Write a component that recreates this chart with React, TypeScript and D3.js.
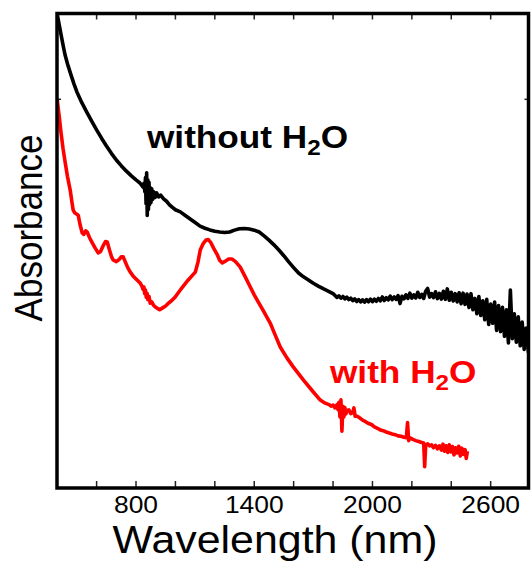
import React from "react";
import * as d3 from "d3";

// ---- data ----
const blackNm = [400,410,420,430,440,455,470,485,500,525,550,575,600,625,650,675,700,725,750,775,800,820,835,840,845,848,851,854,857,860,863,866,869,872,876,880,885,890,897,905,915,925,940,955,970,985,1000,1025,1050,1075,1100,1125,1150,1175,1200,1225,1250,1275,1300,1325,1350,1375,1400,1425,1450,1475,1500,1525,1550,1575,1600,1625,1650,1675,1700,1725,1750,1775,
1800,1810,1820,1830,1840,1850,1860,1870,1880,1890,1900,1910,1920,1930,1940,1950,1960,1970,1980,1990,2000,2010,2020,2030,2040,2050,2060,2070,2080,2090,2100,2110,2120,2130,2140,2150,2160,2170,2180,2190,2200,2210,2220,2230,2240,2250,2260,2270,2280,2290,2300,2310,2320,2330,2340,2350,2360,2370,2380,2390,2400,2410,2420,2430,2440,2450,2460,2470,2480,2490,2500,2510,2520,2530,2540,2550,2560,2570,2580,2590,2600,2610,2620,2630,2640,2650,2660,2670,2680,2690,2700,2710,2720,2730,2740,2750,2760,2770,2780,2792];
const blackAbs = [2.0,1.955,1.911,1.868,1.827,1.782,1.743,1.705,1.671,1.626,1.586,1.548,1.511,1.476,1.443,1.412,1.384,1.36,1.338,1.318,1.3,1.287,1.27,1.285,1.25,1.31,1.2,1.33,1.15,1.3,1.175,1.29,1.195,1.268,1.205,1.262,1.218,1.25,1.226,1.245,1.228,1.236,1.22,1.21,1.195,1.184,1.174,1.165,1.15,1.135,1.12,1.105,1.096,1.089,1.083,1.08,1.078,1.08,1.088,1.094,1.095,1.093,1.088,1.08,1.064,1.046,1.026,1.004,0.98,0.954,0.93,0.907,0.891,0.878,0.864,0.852,0.841,0.831,0.82,
0.812,0.804,0.811,0.801,0.808,0.798,0.805,0.795,0.801,0.791,0.798,0.787,0.795,0.785,0.794,0.784,0.795,0.786,0.797,0.786,0.797,0.788,0.8,0.79,0.806,0.791,0.803,0.794,0.81,0.795,0.806,0.796,0.812,0.778,0.809,0.798,0.815,0.8,0.822,0.801,0.815,0.802,0.826,0.804,0.817,0.8,0.83,0.842,0.805,0.82,0.803,0.828,0.799,0.821,0.797,0.83,0.796,0.84,0.792,0.826,0.789,0.82,0.785,0.824,0.778,0.822,0.775,0.818,0.762,0.82,0.752,0.8,0.735,0.808,0.728,0.79,0.71,0.796,0.69,0.776,0.695,0.785,0.665,0.77,0.66,0.762,0.64,0.752,0.612,0.835,0.63,0.735,0.615,0.722,0.6,0.7,0.585,0.675,0.57,0.6];

const redNm = [400,410,420,430,441,452,466,475,481,490,500,507,515,527,535,545,552,565,578,593,608,620,632,645,654,665,676,684,700,715,725,735,745,758,771,785,800,812,821,830,836,840,844,848,852,856,860,866,872,880,890,898,910,920,933,950,965,980,999,1020,1040,1065,1085,1101,1115,1126,1140,1155,1167,1180,1195,1212,1225,1238,1255,1270,1288,1305,1329,1355,1380,1400,1415,1448,1481,1505,1532,1565,1598,1650,1700,1735,1760,
1780,1790,1800,1810,1820,1825,1830,1835,1840,1845,1850,1855,1860,1865,1870,1880,1890,1900,1906,1912,1920,1935,1950,1965,1980,1995,2010,2025,2040,2055,2070,2085,2100,2115,2130,2145,2160,2172,2178,2184,2190,2205,2220,2235,2250,2260,2265,2270,2280,2290,2300,2310,2320,2330,2340,2350,2358,2366,2374,2382,2390,2398,2406,2414,2422,2430,2438,2446,2454,2462,2470,2476,2482];
const redAbs = [1.637,1.57,1.495,1.43,1.371,1.315,1.257,1.205,1.173,1.16,1.155,1.15,1.115,1.076,1.07,1.085,1.08,1.055,1.034,1.012,0.992,0.998,1.02,1.04,1.038,1.005,0.975,0.962,0.955,0.965,0.975,0.975,0.955,0.93,0.911,0.895,0.882,0.872,0.865,0.852,0.838,0.848,0.82,0.835,0.805,0.822,0.795,0.808,0.78,0.785,0.77,0.764,0.757,0.752,0.759,0.768,0.78,0.79,0.806,0.83,0.852,0.878,0.896,0.911,0.955,1.004,1.03,1.046,1.048,1.035,1.01,0.985,0.96,0.95,0.958,0.966,0.966,0.955,0.932,0.89,0.848,0.815,0.793,0.745,0.696,0.648,0.595,0.55,0.511,0.455,0.405,0.371,0.358,
0.352,0.345,0.35,0.338,0.352,0.33,0.362,0.3,0.372,0.24,0.345,0.3,0.34,0.312,0.326,0.33,0.314,0.318,0.338,0.303,0.304,0.296,0.286,0.28,0.272,0.268,0.258,0.252,0.245,0.242,0.236,0.232,0.228,0.225,0.22,0.218,0.214,0.212,0.276,0.2,0.212,0.205,0.2,0.196,0.192,0.19,0.09,0.178,0.186,0.178,0.182,0.17,0.18,0.165,0.178,0.16,0.185,0.155,0.178,0.15,0.182,0.152,0.175,0.14,0.17,0.148,0.176,0.135,0.168,0.142,0.162,0.125,0.155];

const xTickValues = [600,800,1000,1200,1400,1600,1800,2000,2200,2400,2600];
const xTickLabels = ["800","1400","2000","2600"];
const yTickValues = [1.64];

const W = 531, H = 567;
const L = 57, R = 528.5, T = 13.5, B = 488;
const FONT = "'Liberation Sans', Arial, Helvetica, sans-serif";

export default function App() {
  const x = d3.scaleLinear().domain([399, 2792]).range([L, R]);
  const y = d3.scaleLinear().domain([0, 2]).range([B, 14]);
  const line = d3.line<[number, number]>().x(d => x(d[0])).y(d => y(d[1]));
  const black: [number, number][] = blackNm.map((n, i) => [n, blackAbs[i]]);
  const red: [number, number][] = redNm.map((n, i) => [n, redAbs[i]]);

  return (
    <svg width={W} height={H} style={{ position: "absolute", left: 0, top: 0, background: "#fff" }}>
      <defs>
        <clipPath id="plot"><rect x={L} y={T} width={R - L} height={B - T} /></clipPath>
      </defs>
      <g clipPath="url(#plot)">
        <path d={line(black) || ""} fill="none" stroke="#000" strokeWidth={3.6} strokeLinejoin="round" />
        <path d={line(red) || ""} fill="none" stroke="#ff0000" strokeWidth={3.6} strokeLinejoin="round" />
      </g>
      {xTickValues.map(v => (
        <g key={v}>
          <line x1={x(v)} x2={x(v)} y1={B} y2={B - 7} stroke="#222" strokeWidth={1.5} />
          <line x1={x(v)} x2={x(v)} y1={T} y2={T + 6} stroke="#222" strokeWidth={1.5} />
        </g>
      ))}
      {yTickValues.map(v => (
        <g key={v}>
          <line x1={R} x2={R - 4} y1={y(v)} y2={y(v)} stroke="#222" strokeWidth={1.5} />
          <line x1={L} x2={L + 4} y1={y(v)} y2={y(v)} stroke="#222" strokeWidth={1.5} />
        </g>
      ))}
      <rect x={L} y={T} width={R - L} height={B - T} fill="none" stroke="#000" strokeWidth={3.5} />
      {xTickLabels.map(t => (
        <text key={t} transform={`translate(${x(+t)},513) scale(1.1,1)`} textAnchor="middle"
          fontFamily={FONT} fontSize={24} fill="#000">{t}</text>
      ))}
      <text transform={`translate(275,553) scale(1.1,1)`} textAnchor="middle" fontFamily={FONT} fontSize={39} fill="#000">Wavelength (nm)</text>
      <text transform={`translate(42,228) scale(1.1,1) rotate(-90)`} textAnchor="middle" fontFamily={FONT} fontSize={35} fill="#000">Absorbance</text>
      <text transform={`translate(147,148) scale(1.1,1)`} fontFamily={FONT} fontSize={32} fontWeight="bold" fill="#000">
        without H<tspan fontSize={22} dy={7}>2</tspan><tspan dy={-7}>O</tspan>
      </text>
      <text transform={`translate(330,383) scale(1.1,1)`} fontFamily={FONT} fontSize={32} fontWeight="bold" fill="#ff0000">
        with H<tspan fontSize={22} dy={7}>2</tspan><tspan dy={-7}>O</tspan>
      </text>
    </svg>
  );
}
